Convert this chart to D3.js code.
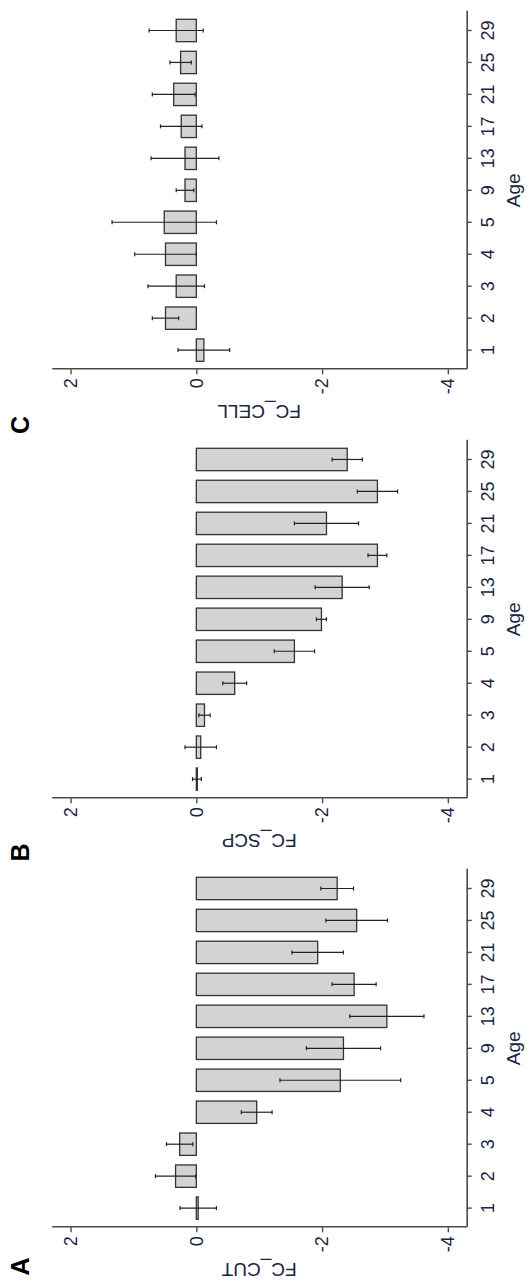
<!DOCTYPE html>
<html>
<head>
<meta charset="utf-8">
<script src="https://cdn.jsdelivr.net/npm/d3@7"></script>
<style>
  html, body { margin: 0; padding: 0; background: #fff; }
  svg { display: block; }
</style>
</head>
<body>
<svg id="chart" width="527" height="1282"></svg>
<script>
// Age groups shared by all three panels
const ages = ["1", "2", "3", "4", "5", "9", "13", "17", "21", "25", "29"];

// Mean fold change and error per age, one pair of arrays per measure
const fcCut   = [-0.03, 0.33, 0.265, -0.96, -2.29, -2.34, -3.03, -2.51, -1.93, -2.55, -2.24];
const errCut  = [0.29, 0.32, 0.21, 0.245, 0.96, 0.59, 0.59, 0.35, 0.41, 0.49, 0.26];

const fcScp   = [-0.01, -0.07, -0.13, -0.61, -1.56, -1.99, -2.32, -2.88, -2.07, -2.88, -2.40];
const errScp  = [0.07, 0.25, 0.09, 0.19, 0.32, 0.08, 0.43, 0.15, 0.51, 0.32, 0.24];

const fcCell  = [-0.12, 0.49, 0.32, 0.49, 0.51, 0.18, 0.18, 0.24, 0.36, 0.25, 0.32];
const errCell = [0.41, 0.21, 0.45, 0.49, 0.83, 0.14, 0.54, 0.33, 0.34, 0.17, 0.43];

const valueTicks = [2, 0, -2, -4];
const panelTags = ["A", "B", "C"];
const panelTitles = ["FC_CUT", "FC_SCP", "FC_CELL"];

const panels = [
  { tag: panelTags[0], title: panelTitles[0], values: fcCut,  errors: errCut },
  { tag: panelTags[1], title: panelTitles[1], values: fcScp,  errors: errScp },
  { tag: panelTags[2], title: panelTitles[2], values: fcCell, errors: errCell }
];

// The figure is laid out landscape (W x H) and turned a quarter turn onto the page
const W = 1282;
const FONT = "'Liberation Sans', Arial, sans-serif";
const TEXT = "#1b2440";

const svg = d3.select("#chart");
const fig = svg.append("g").attr("transform", `translate(0,${W}) rotate(-90)`);

const plotTop = 51.7, plotBottom = 466.7;
const y = d3.scaleLinear().domain([2.3, -4.3]).range([plotTop, plotBottom]);

const panelStep = 429, plotW = 358, firstAxisX = 54.7;
const tagX = [15.5, 429.5, 857];

panels.forEach((p, i) => {
  const x0 = firstAxisX + i * panelStep;
  const x = d3.scaleBand()
    .domain(ages)
    .range([x0, x0 + plotW])
    .paddingInner(0.3)
    .paddingOuter(0.25);

  const g = fig.append("g").attr("class", "panel");
  const rows = ages.map((a, j) => ({ age: a, v: p.values[j], e: p.errors[j] }));

  // bars from zero
  g.selectAll("rect.bar")
    .data(rows)
    .join("rect")
    .attr("class", "bar")
    .attr("x", d => x(d.age))
    .attr("width", x.bandwidth())
    .attr("y", d => Math.min(y(0), y(d.v)))
    .attr("height", d => Math.max(1, Math.abs(y(d.v) - y(0))))
    .attr("fill", "#d3d3d3")
    .attr("stroke", "#333")
    .attr("stroke-width", 1.3);

  // error bars: mean ± error with small caps
  const cx = d => x(d.age) + x.bandwidth() / 2;
  const eb = g.selectAll("g.err").data(rows).join("g").attr("class", "err")
    .attr("stroke", "#222").attr("stroke-width", 1.2);
  eb.append("line")
    .attr("x1", cx).attr("x2", cx)
    .attr("y1", d => y(d.v + d.e)).attr("y2", d => y(d.v - d.e));
  eb.append("line")
    .attr("x1", d => cx(d) - 2).attr("x2", d => cx(d) + 2)
    .attr("y1", d => y(d.v + d.e)).attr("y2", d => y(d.v + d.e));
  eb.append("line")
    .attr("x1", d => cx(d) - 2).attr("x2", d => cx(d) + 2)
    .attr("y1", d => y(d.v - d.e)).attr("y2", d => y(d.v - d.e));

  // value axis
  const ya = g.append("g")
    .attr("transform", `translate(${x0},0)`)
    .call(d3.axisLeft(y).tickValues(valueTicks).tickFormat(d => String(d))
      .tickSize(5).tickSizeOuter(0).tickPadding(4));

  // age axis
  const xa = g.append("g")
    .attr("transform", `translate(0,${plotBottom})`)
    .call(d3.axisBottom(x).tickSize(5).tickSizeOuter(0).tickPadding(10));

  [ya, xa].forEach(ax => {
    ax.attr("font-family", null).attr("font-size", null);
    ax.select(".domain").attr("stroke", "#4a4a4a").attr("stroke-width", 1.6);
    ax.selectAll(".tick line").attr("stroke", "#4a4a4a").attr("stroke-width", 1.4);
    ax.selectAll(".tick text")
      .attr("fill", TEXT)
      .style("font-family", FONT)
      .style("font-size", "18px");
  });

  // axis titles
  g.append("text")
    .attr("x", x0 + plotW / 2)
    .attr("y", 520)
    .attr("text-anchor", "middle")
    .attr("fill", TEXT)
    .style("font-family", FONT)
    .style("font-size", "19px")
    .text("Age");

  g.append("text")
    .attr("transform", `translate(${x0 - 36},${(plotTop + plotBottom) / 2}) rotate(-90)`)
    .attr("text-anchor", "middle")
    .attr("fill", TEXT)
    .style("font-family", FONT)
    .style("font-size", "19px")
    .text(p.title);

  // panel letter
  g.append("text")
    .attr("x", tagX[i])
    .attr("y", 29.3)
    .attr("text-anchor", "middle")
    .attr("fill", "#000")
    .style("font-family", FONT)
    .style("font-weight", "bold")
    .style("font-size", "25px")
    .text(p.tag);
});
</script>
</body>
</html>
